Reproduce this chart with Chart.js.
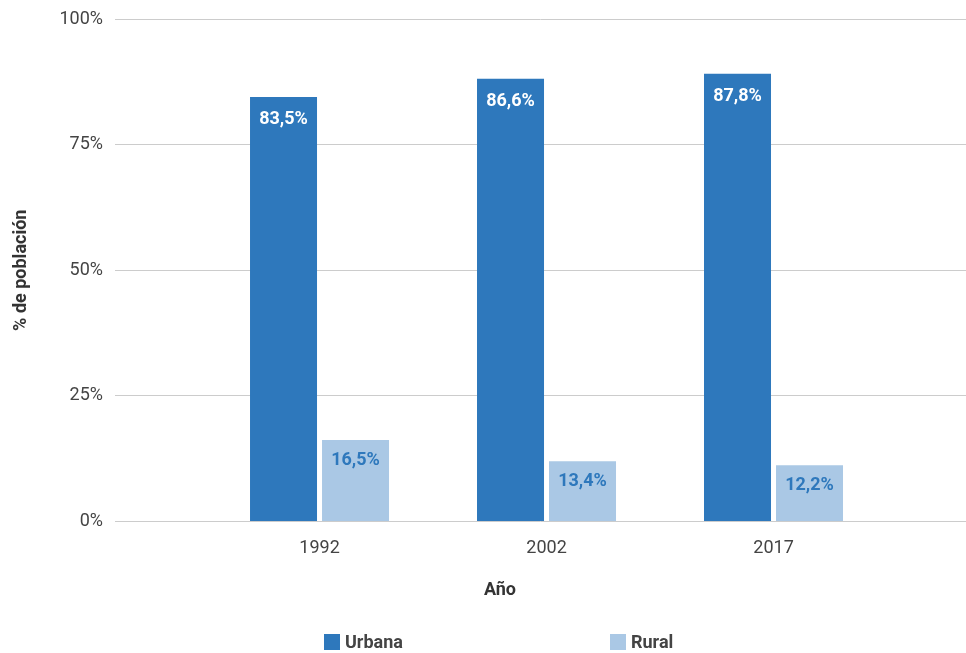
<!DOCTYPE html>
<html>
<head>
<meta charset="utf-8">
<script src="https://cdn.jsdelivr.net/npm/chart.js@4.4.1/dist/chart.umd.min.js"></script>
<style>
html,body{margin:0;padding:0;background:#fff;}
#wrap{position:relative;width:966px;height:653px;overflow:hidden;}
#xtitle{position:absolute;left:0;top:579px;width:1000px;height:20px;line-height:20px;text-align:center;font-family:Roboto,sans-serif;font-weight:bold;font-size:18px;color:#333;}
#legend{position:absolute;left:0;top:632px;width:966px;height:20px;font-family:Roboto,sans-serif;font-weight:bold;font-size:18px;line-height:20px;color:#444;}
.item{position:absolute;top:0;height:20px;display:flex;align-items:center;white-space:nowrap;}
.sw{width:16px;height:16px;margin-right:5px;flex:none;}
</style>
</head>
<body>
<div id="wrap">
  <canvas id="c" width="966" height="653"></canvas>
  <div id="xtitle"></div>
  <div id="legend"></div>
</div>
<script>
// ---- data ----
const categories = ['1992', '2002', '2017'];
const seriesNames = ['Urbana', 'Rural'];
const urbana = [84.5, 88.1, 89.1];
const rural = [16.2, 12.0, 11.2];
const urbanaLabels = ['83,5%', '86,6%', '87,8%'];
const ruralLabels = ['16,5%', '13,4%', '12,2%'];
const yTicks = [0, 25, 50, 75, 100];
const yTitle = '% de población';
const xTitle = 'Año';

// ---- styles ----
const colors = ['#2E78BC', '#AAC8E5'];
const labelColors = ['#FFFFFF', '#2E78BC'];
const labelOffsets = [23, 20];
const legendLeft = [324, 610];

Chart.defaults.font.family = 'Roboto, sans-serif';

const labelPlugin = {
  id: 'barLabels',
  afterDatasetsDraw(chart) {
    const ctx = chart.ctx;
    chart.data.datasets.forEach((ds, di) => {
      const meta = chart.getDatasetMeta(di);
      meta.data.forEach((bar, i) => {
        ctx.save();
        ctx.font = 'bold 18px Roboto, sans-serif';
        ctx.fillStyle = ds.labelColor;
        ctx.textAlign = 'center';
        ctx.textBaseline = 'middle';
        ctx.fillText(ds.valueLabels[i], bar.x, bar.y + ds.labelOffset);
        ctx.restore();
      });
    });
  }
};

const seriesValues = [urbana, rural];
const seriesLabels = [urbanaLabels, ruralLabels];

const datasets = seriesNames.map((name, si) => ({
  label: name,
  data: seriesValues[si].map((v, i) => ({ x: i + 1, y: v })),
  backgroundColor: colors[si],
  borderWidth: 0,
  categoryPercentage: 0.6344,
  barPercentage: 0.9306,
  valueLabels: seriesLabels[si],
  labelColor: labelColors[si],
  labelOffset: labelOffsets[si]
}));

new Chart(document.getElementById('c'), {
  type: 'bar',
  data: { datasets },
  options: {
    responsive: false,
    animation: false,
    layout: { padding: { top: 19, right: 0, bottom: 0, left: 0 } },
    plugins: { legend: { display: false }, tooltip: { enabled: false } },
    scales: {
      x: {
        type: 'linear',
        min: 0.099,
        max: 3.848,
        offset: false,
        grid: { display: false, drawTicks: false },
        border: { display: false },
        afterBuildTicks: s => { s.ticks = categories.map((c, i) => ({ value: i + 1 })); },
        afterFit: s => { s.height = 653 - 521.5; },
        ticks: {
          callback: v => categories[v - 1],
          padding: 16,
          color: '#444',
          font: { size: 18 },
          maxRotation: 0,
          autoSkip: false
        },
        title: { display: false }
      },
      y: {
        min: 0,
        max: 100,
        afterBuildTicks: s => { s.ticks = yTicks.map(v => ({ value: v })); },
        afterFit: s => { s.width = 115; s.paddingTop = 0; s.paddingBottom = 0; },
        grid: { color: '#cccccc', drawTicks: false, lineWidth: 1 },
        border: { display: false },
        ticks: { callback: v => v + '%', padding: 12, color: '#444', font: { size: 18 } },
        title: {
          display: true, text: yTitle, color: '#333',
          font: { size: 18, weight: 'bold' },
          padding: { top: 11, bottom: 0 }
        }
      }
    }
  },
  plugins: [labelPlugin]
});

// x axis title
document.getElementById('xtitle').textContent = xTitle;

// legend
const legend = document.getElementById('legend');
seriesNames.forEach((name, i) => {
  const item = document.createElement('div');
  item.className = 'item';
  item.style.left = legendLeft[i] + 'px';
  const sw = document.createElement('span');
  sw.className = 'sw';
  sw.style.background = colors[i];
  const t = document.createElement('span');
  t.textContent = name;
  item.appendChild(sw);
  item.appendChild(t);
  legend.appendChild(item);
});
</script>
</body>
</html>
